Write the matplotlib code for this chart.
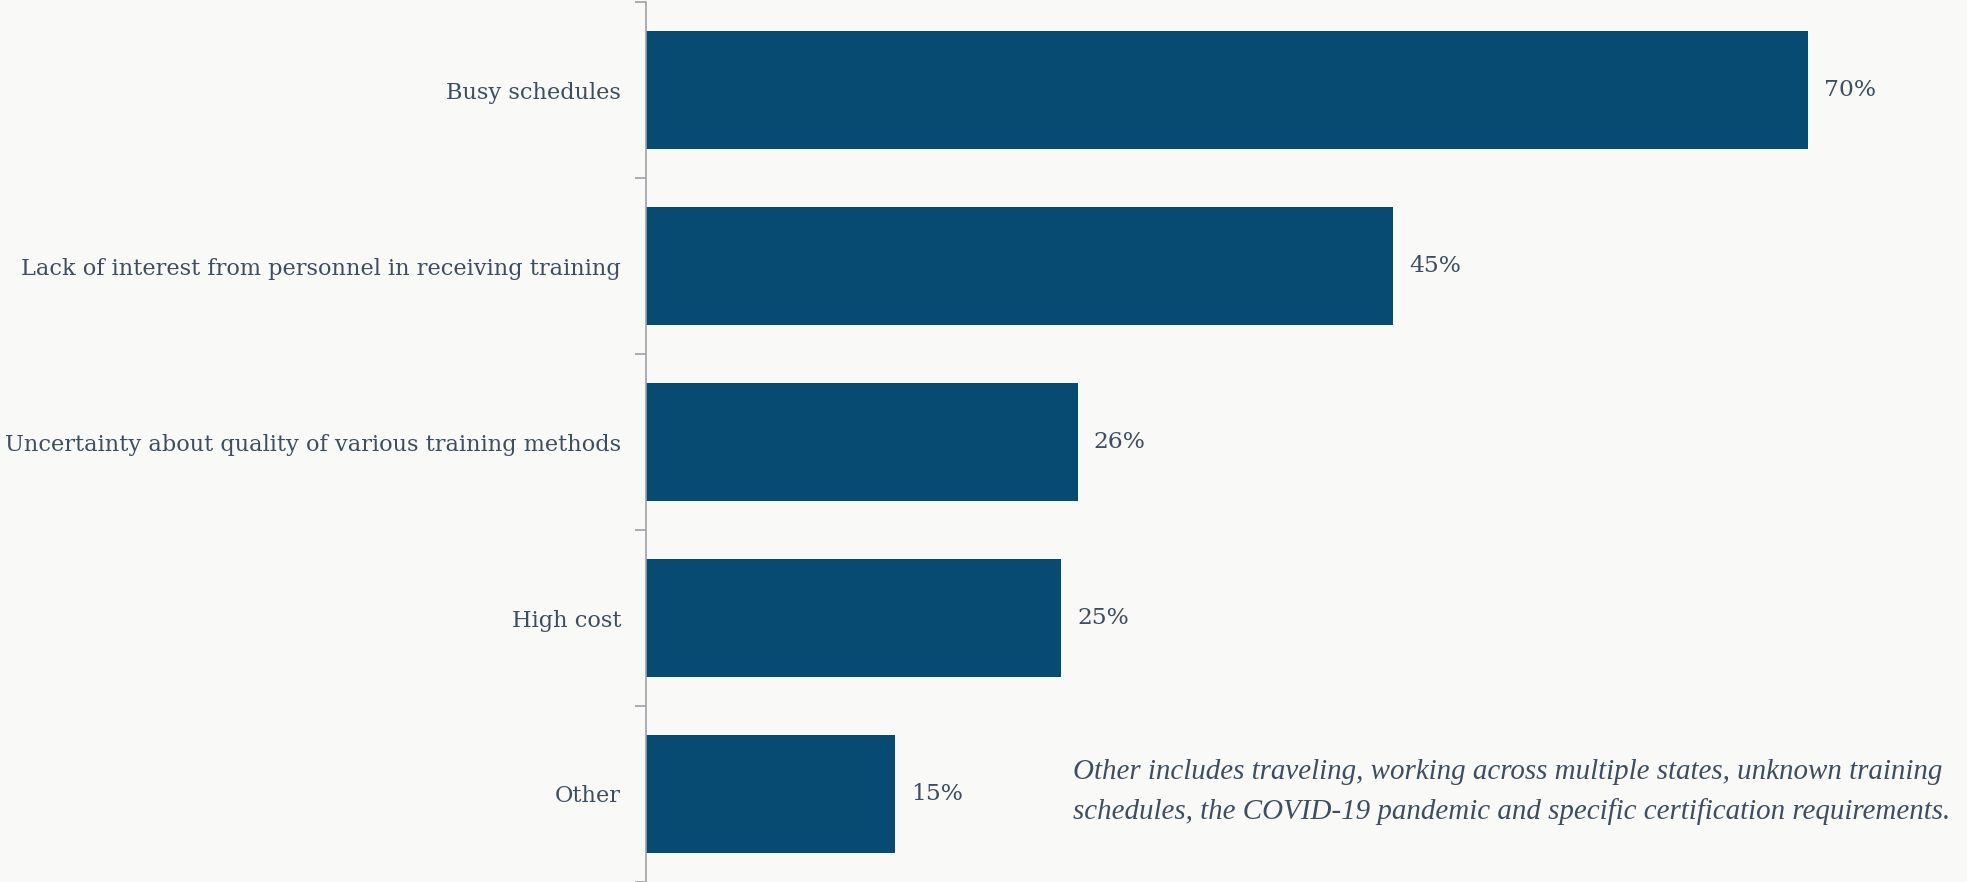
import matplotlib
matplotlib.use("Agg")
import matplotlib.pyplot as plt
import numpy as np

categories = ["Busy schedules",
              "Lack of interest from personnel in receiving training",
              "Uncertainty about quality of various training methods",
              "High cost",
              "Other"]
values = [70, 45, 26, 25, 15]
value_labels = ["70%", "45%", "26%", "25%", "15%"]
note = ("Other includes traveling, working across multiple states, unknown training\n"
        "schedules, the COVID-19 pandemic and specific certification requirements.")

BG = "#f9f9f7"
BAR = "#074a72"
TXT = "#3e4e62"
AX = "#9da2a8"

W, H = 1967, 882
fig = plt.figure(figsize=(W / 100, H / 100), dpi=100, facecolor=BG)
ax = fig.add_axes([646 / W, 0, 1 - 646 / W, (H - 2) / H], facecolor=BG)

y = np.arange(len(categories))
ax.barh(y, values, height=0.665, color=BAR, zorder=2)
ax.set_ylim(len(categories) - 0.5, -0.5)
ax.set_xlim(0, (W - 646) / 16.6)

for s in ["top", "right", "bottom"]:
    ax.spines[s].set_visible(False)
ax.spines["left"].set_color(AX)
ax.spines["left"].set_linewidth(1.2)
ax.set_xticks([])

ax.set_yticks(np.arange(-0.5, len(categories), 1.0))
ax.set_yticklabels([])
ax.tick_params(axis="y", which="major", length=8, width=1.2, color=AX)
ax.set_yticks(y, minor=True)
ax.set_yticklabels(categories, minor=True, fontsize=16.2, color=TXT,
                   family="DejaVu Serif")
ax.tick_params(axis="y", which="minor", length=0, pad=18)

for yi, v, lab in zip(y, values, value_labels):
    ax.annotate(lab, (v, yi), xytext=(11.5, 0), textcoords="offset points",
                va="center", ha="left", fontsize=16.8, color=TXT,
                family="DejaVu Serif")

fig.text(1073 / W, 1 - 792 / H, note, ha="left", va="center", fontsize=20.9,
         style="italic", color=TXT, family="Liberation Serif", linespacing=1.66)

fig.savefig("out.png", dpi=100, facecolor=BG)
